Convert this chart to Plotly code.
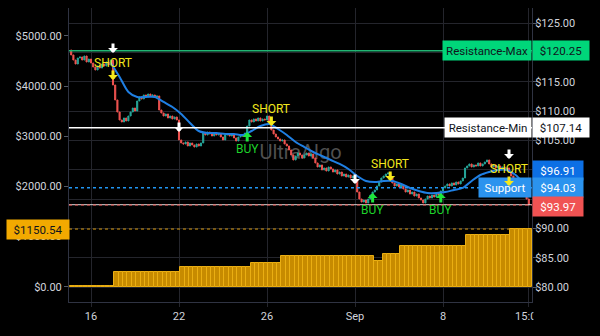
import plotly.graph_objects as go

# ---- price bars (right axis), one close per bar, bars indexed 1..N ----
first_open = 120.40
closes = [
    119.55, 118.69, 118.01, 119.03, 119.21, 118.69, 119.38, 118.35, 118.86, 118.18,
    117.50, 116.99, 117.67, 117.33, 118.01, 117.67, 118.35, 117.84, 118.69, 114.43,
    111.88, 109.83, 108.47, 108.13, 108.81, 108.30, 109.15, 109.83, 110.51, 110.00,
    111.71, 112.39, 112.05, 112.73, 112.39, 112.90, 112.56, 112.73, 112.39, 112.56,
    110.17, 109.66, 109.15, 109.49, 108.81, 109.15, 108.64, 108.98, 108.47, 105.06,
    104.55, 104.38, 104.72, 104.04, 104.55, 104.21, 103.86, 104.38, 104.04, 104.55,
    106.25, 105.91, 106.42, 106.08, 105.74, 106.25, 105.91, 106.08, 105.57, 105.06,
    105.91, 106.08, 105.74, 105.91, 105.40, 104.89, 105.57, 105.91, 105.74, 106.25,
    107.44, 108.47, 108.13, 108.64, 108.30, 108.81, 108.30, 108.64, 108.47, 109.15,
    108.13, 106.76, 106.08, 105.57, 105.23, 104.89, 105.06, 104.38, 104.04, 103.35,
    102.50, 101.65, 102.33, 102.84, 102.50, 101.99, 102.50, 102.84, 102.33, 102.67,
    101.99, 101.14, 100.46, 100.80, 99.95, 100.29, 99.77, 100.46, 100.12, 99.60,
    99.95, 99.26, 99.60, 98.92, 99.26, 98.75, 99.09, 98.58, 98.92, 98.24,
    96.19, 95.00, 94.49, 94.83, 94.32, 95.00, 95.68, 96.19, 96.54, 97.22,
    97.90, 98.58, 98.92, 99.26, 99.43, 98.58, 97.73, 97.22, 97.56, 97.05,
    97.39, 96.71, 96.19, 96.54, 95.85, 96.19, 95.51, 95.85, 95.17, 94.83,
    94.32, 95.00, 95.51, 95.17, 95.68, 95.34, 96.02, 95.68, 96.37, 96.88,
    97.22, 97.56, 97.22, 97.73, 97.39, 97.90, 97.56, 98.07, 98.58, 100.29,
    100.63, 100.97, 100.46, 100.80, 100.63, 101.14, 100.63, 100.97, 101.31, 101.65,
    100.97, 100.46, 100.80, 100.29, 100.63, 100.12, 100.46, 99.95, 100.29, 99.60,
    98.92, 98.24, 97.39, 97.73, 96.88, 96.19, 95.68, 95.00, 93.97,
]

# ---- trend line (right axis) ----
ma_idx = [19, 23, 27, 31, 35, 39, 43, 47, 51, 55, 59, 63, 67, 71, 75, 79, 83, 87,
          91, 95, 99, 103, 107, 111, 115, 119, 123, 127, 131, 135, 139, 143, 147,
          151, 155, 159, 163, 167, 171, 175, 179, 183, 187, 191, 195, 199, 203, 207, 209]
ma_val = [118.18, 115.80, 113.24, 112.39, 112.39, 112.39, 111.54, 110.68, 109.49,
          107.96, 106.59, 106.25, 106.25, 106.08, 106.08, 105.91, 106.59, 107.44,
          107.79, 106.93, 105.91, 104.72, 103.86, 103.01, 102.33, 101.65, 100.97,
          100.12, 98.92, 98.07, 97.90, 98.07, 98.07, 97.56, 96.88, 96.37, 96.02,
          96.02, 96.19, 96.54, 96.88, 98.07, 99.09, 99.60, 99.95, 99.95, 99.09,
          97.60, 96.91]

# ---- equity histogram (left axis), one bar per two price bars ----
equity = ([25.0] * 10 + [295.0] * 15 + [395.0] * 16 + [474.0] * 7 + [613.0] * 21
          + [514.0] * 2 + [653.0] * 4 + [813.0] * 15 + [1032.0] * 10 + [1150.54] * 5)

# ---- horizontal levels ----
resistance_max = 120.25
resistance_min = 107.14
support = 94.03

# ---- signals (bar index, arrow tip price) ----
short_idx = [20, 92, 146, 200]
short_tip = [115.28, 107.44, 98.07, 97.22]
buy_idx = [81, 138, 169]
buy_tip = [106.42, 96.02, 96.02]
alert_idx = [20, 50, 130, 200]
alert_tip = [119.89, 106.42, 97.56, 101.82]

# ---- axes ----
tick_idx = [10, 50, 90, 130, 170, 209]
tick_text = ["16", "22", "26", "Sep", "8", "15:00"]
left_ticks = [0, 1000, 2000, 3000, 4000, 5000]
right_ticks = [80, 85, 90, 95, 100, 105, 110, 115, 120, 125]
# price levels whose axis label sits under a price tag
right_hidden = [95, 100, 120]

# ---- derived series ----
bar_idx = list(range(1, len(closes) + 1))
opens = [first_open] + closes[:-1]
highs = [max(o, c) for o, c in zip(opens, closes)]
lows = [min(o, c) for o, c in zip(opens, closes)]
eq_x = [1.5 + 2 * k for k in range(len(equity))]

x_range = [0, 210.45]
left_range = [-303, 5554]
right_range = [77.443, 127.557]

FONT = "Roboto"
TXT = "#d1d4dc"
GRID = "#24252c"
AXIS = "#2f3342"

fig = go.Figure()

# watermark, drawn first so everything else sits on top of it
fig.add_trace(go.Scatter(
    x=[sum(x_range) / 2], y=[sum(left_range) / 2 + 20], mode="text", text=["UltraAlgo"],
    textfont=dict(family=FONT, size=20, color="#505050"),
    hoverinfo="skip", showlegend=False, xaxis="x", yaxis="y"))

fig.add_trace(go.Bar(
    x=eq_x, y=equity, width=2, yaxis="y", showlegend=False, hoverinfo="skip",
    marker=dict(color="#c78b00", line=dict(color="#eaae12", width=1))))

fig.add_trace(go.Candlestick(
    x=bar_idx, open=opens, high=highs, low=lows, close=closes, yaxis="y2",
    showlegend=False, whiskerwidth=0, hoverinfo="skip",
    increasing=dict(line=dict(color="#26a69a", width=1), fillcolor="#26a69a"),
    decreasing=dict(line=dict(color="#ef5350", width=1), fillcolor="#ef5350")))

fig.add_trace(go.Scatter(
    x=ma_idx, y=ma_val, mode="lines", yaxis="y2", showlegend=False, hoverinfo="skip",
    line=dict(color="#1f7fe3", width=2, shape="spline", smoothing=0.8)))

last_close = closes[-1]
ma_last = ma_val[-1]
eq_last = equity[-1]

shapes = [
    dict(type="line", xref="paper", x0=0, x1=1, yref="y2", y0=resistance_max, y1=resistance_max,
         line=dict(color="#22b574", width=1.5), layer="above"),
    dict(type="line", xref="paper", x0=0, x1=1, yref="y2", y0=resistance_min, y1=resistance_min,
         line=dict(color="#ffffff", width=1.5), layer="above"),
    dict(type="line", xref="paper", x0=0, x1=1, yref="y2", y0=support, y1=support,
         line=dict(color="#d8d8d8", width=1), layer="above"),
    dict(type="line", xref="paper", x0=0, x1=1, yref="y2", y0=last_close, y1=last_close,
         line=dict(color="#ef5350", width=1, dash="dot"), layer="above"),
    dict(type="line", xref="paper", x0=0, x1=1, yref="y2", y0=ma_last, y1=ma_last,
         line=dict(color="#2196f3", width=1.5, dash="dot"), layer="above"),
    dict(type="line", xref="paper", x0=0, x1=1, yref="y", y0=eq_last, y1=eq_last,
         line=dict(color="#d89a10", width=1, dash="dot"), layer="above"),
    # clip the time labels that run past the right edge of the plot
    dict(type="rect", xref="paper", x0=1.003, x1=1.2, yref="paper", y0=-0.2, y1=-0.006,
         fillcolor="#000000", line=dict(width=0), layer="above"),
]


def tag(text, y, yref, bg, fg, width, anchor="left", x=1, yshift=0, xshift=0):
    return dict(text=text, xref="paper", x=x, xanchor=anchor, xshift=xshift,
                yref=yref, y=y, yanchor="middle", yshift=yshift,
                showarrow=False, bgcolor=bg, borderpad=0, width=width, height=19,
                font=dict(family=FONT, size=11.5, color=fg), align="center")


annotations = [
    tag("Resistance-Max", resistance_max, "y2", "#00d67a", "#10141c", 88, anchor="right"),
    tag(f"${resistance_max:.2f}", resistance_max, "y2", "#00d67a", "#10141c", 56),
    tag("Resistance-Min", resistance_min, "y2", "#ffffff", "#10141c", 86, anchor="right"),
    tag(f"${resistance_min:.2f}", resistance_min, "y2", "#ffffff", "#10141c", 56),
    tag(f"${ma_last:.2f}", ma_last, "y2", "#0c6fe4", "#ffffff", 50, yshift=17),
    tag("Support", support, "y2", "#2b93ee", "#ffffff", 52, anchor="right", yshift=17),
    tag(f"${support:.2f}", support, "y2", "#2b93ee", "#ffffff", 50, yshift=17),
    tag(f"${last_close:.2f}", last_close, "y2", "#f05353", "#ffffff", 50, yshift=-1),
    tag(f"${eq_last:.2f}", eq_last, "y", "#f2a900", "#10141c", 62, anchor="right", x=0, xshift=1),
]


def arrow(x, tip, color, up):
    return dict(x=x, y=tip, xref="x", yref="y2", text="", showarrow=True,
                ax=0, ay=11 if up else -11, arrowhead=1, arrowsize=0.55,
                arrowwidth=3, arrowcolor=color)


def label(x, tip, text, color, dy):
    return dict(x=x, y=tip, xref="x", yref="y2", text=text, showarrow=False,
                yshift=dy, font=dict(family="Liberation Sans Narrow, Roboto", size=12, color=color))


for x, t in zip(alert_idx, alert_tip):
    annotations.append(arrow(x, t, "#ffffff", False))
for x, t in zip(short_idx, short_tip):
    annotations.append(arrow(x, t, "#f2e81c", False))
    annotations.append(label(x, t, "SHORT", "#f2e81c", 17))
for x, t in zip(buy_idx, buy_tip):
    annotations.append(arrow(x, t, "#1ee63c", True))
    annotations.append(label(x, t, "BUY", "#1ed22a", -17))

axis_font = dict(family=FONT, size=11, color=TXT)

fig.update_layout(
    width=600, height=336,
    margin=dict(l=69, r=68, t=8, b=34),
    paper_bgcolor="#000000", plot_bgcolor="#000000",
    showlegend=False, bargap=0,
    shapes=shapes, annotations=annotations,
    xaxis=dict(range=x_range, tickvals=tick_idx, ticktext=tick_text,
               showgrid=True, gridcolor=GRID, gridwidth=1, zeroline=False,
               showline=True, linecolor=AXIS, ticks="outside", ticklen=4,
               tickcolor=GRID, tickfont=axis_font, rangeslider=dict(visible=False),
               fixedrange=True),
    yaxis=dict(range=left_range, tickvals=left_ticks,
               ticktext=[f"${v:.2f}" for v in left_ticks],
               showgrid=False, zeroline=False,
               showline=True, linecolor=AXIS, ticks="outside", ticklen=4,
               tickcolor="#555a66", tickfont=axis_font, fixedrange=True),
    yaxis2=dict(range=right_range, overlaying="y", side="right",
                tickvals=right_ticks,
                ticktext=["" if v in right_hidden else f"${v:.2f}" for v in right_ticks],
                showgrid=True, gridcolor=GRID, ticklabelstandoff=-4,
                zeroline=False, showline=True, linecolor=AXIS, ticks="outside",
                ticklen=4, tickcolor="#555a66", tickfont=axis_font, fixedrange=True),
)

fig.write_html("out.html")
